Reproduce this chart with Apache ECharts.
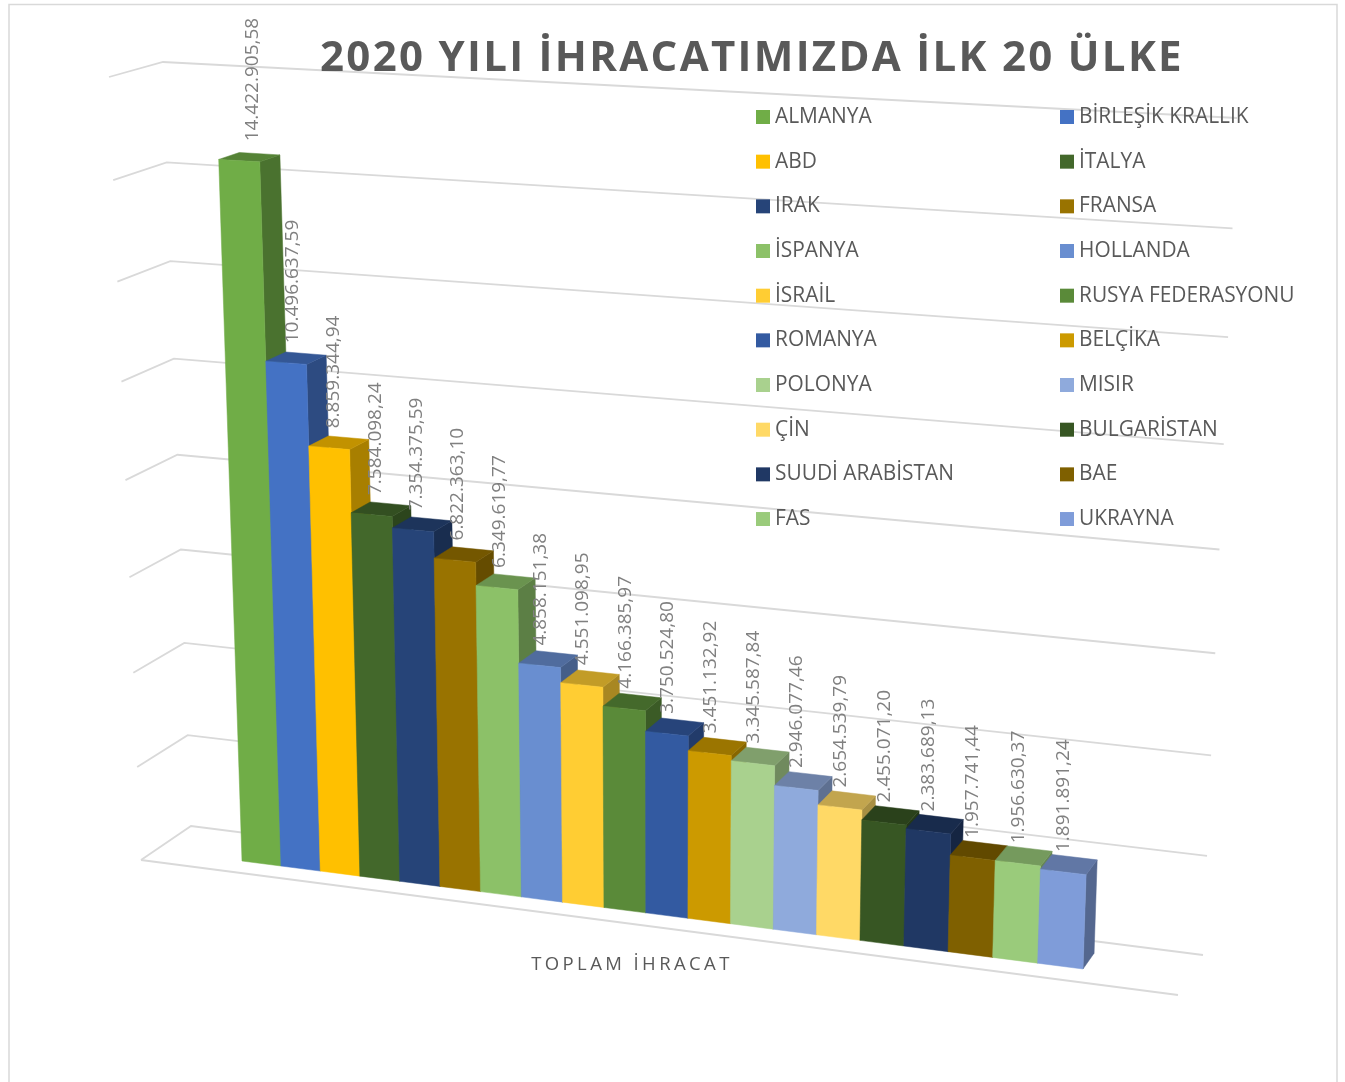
<!DOCTYPE html>
<html><head><meta charset="utf-8">
<style>html,body{margin:0;padding:0;background:#fff}#c{width:1345px;height:1082px}</style>
<script src="https://cdn.jsdelivr.net/npm/echarts@6/dist/echarts.min.js"></script>
</head><body><div id="c"></div>
<script>
const categories = ['TOPLAM İHRACAT'];
const countries = ['ALMANYA','BİRLEŞİK KRALLIK','ABD','İTALYA','IRAK','FRANSA','İSPANYA','HOLLANDA','İSRAİL','RUSYA FEDERASYONU','ROMANYA','BELÇİKA','POLONYA','MISIR','ÇİN','BULGARİSTAN','SUUDİ ARABİSTAN','BAE','FAS','UKRAYNA'];
const exportsUsd = [14422905.58,10496637.59,8859344.94,7584098.24,7354375.59,6822363.10,6349619.77,4858151.38,4551098.95,4166385.97,3750524.80,3451132.92,3345587.84,2946077.46,2654539.79,2455071.20,2383689.13,1957741.44,1956630.37,1891891.24];
const colors = ['#70AD47','#4472C4','#FFC000','#43682B','#264478','#997300','#8CC168','#698ED0','#FFCD33','#5A8A39','#335AA1','#CC9A00','#A9D18E','#8FAADC','#FFD966','#375623','#203864','#7F6000','#9ACB7B','#7F9CD9'];
const gridTicks = [0,2000000,4000000,6000000,8000000,10000000,12000000,14000000,16000000];
const legendLeft = countries.filter((_, i) => i % 2 === 0);
const legendRight = countries.filter((_, i) => i % 2 === 1);

// Perspective camera: each plane is a projective map of the grid's unit square.
function planeMap(p0, p1, p2, p3) {
  const dx1 = p1[0]-p2[0], dx2 = p3[0]-p2[0], sx = p0[0]-p1[0]+p2[0]-p3[0];
  const dy1 = p1[1]-p2[1], dy2 = p3[1]-p2[1], sy = p0[1]-p1[1]+p2[1]-p3[1];
  const den = dx1*dy2-dx2*dy1;
  const g = (sx*dy2-dx2*sy)/den, h = (dx1*sy-sx*dy1)/den;
  const a = p1[0]-p0[0]+g*p1[0], b = p3[0]-p0[0]+h*p3[0], c = p0[0];
  const d = p1[1]-p0[1]+g*p1[1], e = p3[1]-p0[1]+h*p3[1], f = p0[1];
  return (u, v) => { const w = g*u+h*v+1; return [(a*u+b*v+c)/w, (d*u+e*v+f)/w]; };
}
const barFront = planeMap([242,861],[1083,969],[1111,124],[216,78]);
const wallBack = planeMap([191,826],[1203,955],[1237,118],[163,62]);
const wallFront = planeMap([141,860],[1178,995],[1213,134],[109,77]);
const VANISH = [2091,-470], BAR_DEPTH = 0.011;
const toBack = p => [p[0]+(VANISH[0]-p[0])*BAR_DEPTH, p[1]+(VANISH[1]-p[1])*BAR_DEPTH];

function shade(hex, k) {
  const n = parseInt(hex.slice(1), 16);
  const ch = s => Math.round(((n>>s)&255)*k).toString(16).padStart(2,'0');
  return '#'+ch(16)+ch(8)+ch(0);
}
function money(v) {
  const [i, d] = v.toFixed(2).split('.');
  return i.replace(/\B(?=(\d{3})+$)/g,'.')+','+d;
}
const unitV = (params, py) => (params.coordSys.y+params.coordSys.height-py)/params.coordSys.height;

function renderBar(params, api) {
  const i = params.seriesIndex-1, n = countries.length, cs = params.coordSys;
  const top = api.coord([api.value(0), api.value(1)]);
  const bw = api.size([1,0])[0];
  const left = top[0]-bw/2;
  const u0 = (left+bw*i/n-cs.x)/cs.width, u1 = (left+bw*(i+1)/n-cs.x)/cs.width;
  const v = unitV(params, top[1]);
  const fBL = barFront(u0,0), fBR = barFront(u1,0), fTL = barFront(u0,v), fTR = barFront(u1,v);
  const bTL = toBack(fTL), bTR = toBack(fTR), bBR = toBack(fBR);
  const col = colors[i], val = api.value(1);
  const poly = (points, fill, z2) => ({type:'polygon', z2, shape:{points}, style:{fill, stroke:fill, lineWidth:0.5}});
  const cx = (fTL[0]+fTR[0])/2, cy = (fTL[1]+fTR[1])/2;
  const m = val/1000000;
  return {type:'group', children:[
    poly([fBR,bBR,bTR,fTR], shade(col,0.66), 10+i*3),
    poly([fTL,fTR,bTR,bTL], shade(col,0.76), 11+i*3),
    poly([fBL,fBR,fTR,fTL], col, 12+i*3),
    {type:'text', z2:1000, x:cx+0.062*m*m, y:cy-20+m*0.05, rotation:Math.PI/2,
     style:{text:money(val), fill:'#808080', font:'19px "Open Sans"', align:'left', verticalAlign:'middle'}}
  ]};
}
function renderGridline(params, api) {
  const p = api.coord([0, api.value(1)]);
  const v = unitV(params, p[1]);
  const style = {fill:'none', stroke:'#D9D9D9', lineWidth:1.8};
  const kids = [{type:'polyline', z2:1, shape:{points:[wallFront(0,v),wallBack(0,v),wallBack(1,v)]}, style}];
  if (api.value(1) === 0) kids.push({type:'line', z2:1, shape:{x1:wallFront(0,0)[0],y1:wallFront(0,0)[1],x2:wallFront(1,0)[0],y2:wallFront(1,0)[1]}, style});
  return {type:'group', children:kids};
}
const legendBase = {orient:'vertical', top:100, icon:'rect', itemWidth:14, itemHeight:14, itemGap:20.67, selectedMode:false,
  textStyle:{color:'#595959', fontFamily:'Open Sans', fontSize:20.9, lineHeight:24}};

const chart = echarts.init(document.getElementById('c'));
const painter = chart.getZr().painter;
if (painter.getLayer) {
  painter.getLayer(1).ctx.letterSpacing = '2.3px';
  painter.getLayer(2).ctx.letterSpacing = '3.4px';
}
chart.setOption({
  animation:false,
  backgroundColor:'#fff',
  title:{text:'2020 YILI İHRACATIMIZDA İLK 20 ÜLKE', left:315, top:33, zlevel:1,
    textStyle:{color:'#595959', fontFamily:'Open Sans', fontWeight:'bold', fontSize:42}},
  legend:[Object.assign({left:751, data:legendLeft}, legendBase), Object.assign({left:1055, data:legendRight}, legendBase)],
  grid:{left:180, width:904, top:62, height:878},
  xAxis:{type:'category', data:categories, zlevel:2, axisLine:{show:false}, axisTick:{show:false}, splitLine:{show:false},
    axisLabel:{margin:15, color:'#595959', fontFamily:'Open Sans', fontSize:18.5}},
  yAxis:{type:'value', min:0, max:16000000, interval:2000000, show:false},
  graphic:[{type:'rect', silent:true, z:-1, shape:{x:9,y:4.5,width:1328,height:1100}, style:{fill:'none', stroke:'#D9D9D9', lineWidth:1.5}}],
  series:[{type:'custom', name:'_grid', renderItem:renderGridline, silent:true, encode:{x:0,y:1}, data:gridTicks.map(t=>[0,t])}]
    .concat(countries.map((name,i)=>({type:'custom', name, renderItem:renderBar, encode:{x:0,y:1},
      itemStyle:{color:colors[i]}, data:[[0,exportsUsd[i]]]})))
});
</script></body></html>
